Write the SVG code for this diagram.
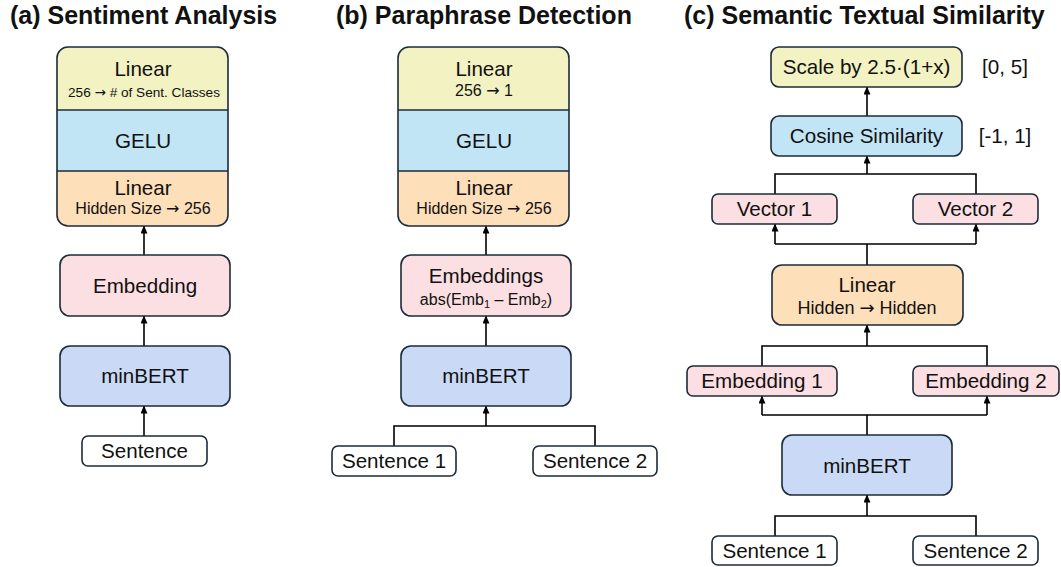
<svg xmlns="http://www.w3.org/2000/svg" width="1061" height="567" viewBox="0 0 1061 567">
<style>
  text { font-family: "Liberation Sans", Arial, sans-serif; fill: #111; text-anchor: middle; }
  .title { font-weight: bold; font-size: 25px; text-anchor: start; }
  .main { font-size: 20.6px; }
  .sub { font-size: 16px; }
  .ar { font-family: "DejaVu Sans", sans-serif; }
  .box { stroke: #1c2b3a; stroke-width: 1.6; }
  .yel { fill: #f2f2c2; }
  .cyan { fill: #c2e5f5; }
  .org { fill: #fddfb9; }
  .pink { fill: #fbdfe2; }
  .blue { fill: #cadaf6; }
  .white { fill: #ffffff; }
  .conn path { fill: none; stroke: #000; stroke-width: 1.6; }
  .conn .arr { marker-end: url(#ah); }
</style>
<defs>
  <marker id="ah" viewBox="0 0 8 7" markerWidth="8" markerHeight="7" refX="7.5" refY="3.5" orient="auto" markerUnits="userSpaceOnUse">
    <path d="M0,0 L8,3.5 L0,7 z" fill="#000"/>
  </marker>
  <clipPath id="clipA"><rect x="57" y="47" width="171" height="179" rx="11"/></clipPath>
  <clipPath id="clipB"><rect x="398" y="47" width="171" height="179" rx="11"/></clipPath>
</defs>
<rect width="1061" height="567" fill="#fff"/>

<text class="title" x="10" y="24">(a) Sentiment Analysis</text>
<text class="title" x="336" y="24">(b) Paraphrase Detection</text>
<text class="title" x="684" y="24">(c) Semantic Textual Similarity</text>

<g class="conn" id="connectors">
  <path class="arr" d="M144,436 V406"/>
  <path class="arr" d="M144,346 V316"/>
  <path class="arr" d="M144,255 V226"/>

  <path d="M394,446 V426 H595 V446"/>
  <path class="arr" d="M486,426 V406"/>
  <path class="arr" d="M486,346 V316"/>
  <path class="arr" d="M486,255 V226"/>

  <path d="M775,536 V516 H976 V536"/>
  <path class="arr" d="M867,516 V495"/>
  <path d="M867,435 V415 M762,415 H987"/>
  <path class="arr" d="M762,415 V396"/>
  <path class="arr" d="M987,415 V396"/>
  <path d="M762,366 V346 H987 V366"/>
  <path class="arr" d="M867,346 V325"/>
  <path d="M867,265 V244 M775,244 H976"/>
  <path class="arr" d="M775,244 V224"/>
  <path class="arr" d="M976,244 V224"/>
  <path d="M775,194 V174 H976 V194"/>
  <path class="arr" d="M867,174 V156"/>
  <path class="arr" d="M867,116 V87"/>
</g>

<!-- (a) -->
<g id="a-head">
  <g clip-path="url(#clipA)">
    <rect class="yel" x="57" y="47" width="171" height="63"/>
    <rect class="cyan" x="57" y="110" width="171" height="61"/>
    <rect class="org" x="57" y="171" width="171" height="55"/>
  </g>
  <rect class="box" x="57" y="47" width="171" height="179" rx="11" fill="none"/>
  <path class="box" d="M57,110 H228 M57,171 H228" fill="none"/>
  <text class="main" x="143" y="76">Linear</text>
  <text x="144" y="97" style="font-size:13.6px">256 <tspan class="ar">→</tspan> # of Sent. Classes</text>
  <text class="main" x="143" y="148">GELU</text>
  <text class="main" x="143" y="195">Linear</text>
  <text class="sub" x="143" y="214">Hidden Size <tspan class="ar">→</tspan> 256</text>
</g>
<g id="a-embedding">
  <rect class="box pink" x="60" y="255" width="170" height="61" rx="10"/>
  <text class="main" x="145" y="293">Embedding</text>
</g>
<g id="a-minbert">
  <rect class="box blue" x="60" y="346" width="170" height="60" rx="10"/>
  <text class="main" x="145" y="383">minBERT</text>
</g>
<g id="a-sentence">
  <rect class="box white" x="82" y="436" width="125" height="30" rx="6"/>
  <text class="main" x="144.5" y="458">Sentence</text>
</g>

<!-- (b) -->
<g id="b-head">
  <g clip-path="url(#clipB)">
    <rect class="yel" x="398" y="47" width="171" height="63"/>
    <rect class="cyan" x="398" y="110" width="171" height="61"/>
    <rect class="org" x="398" y="171" width="171" height="55"/>
  </g>
  <rect class="box" x="398" y="47" width="171" height="179" rx="11" fill="none"/>
  <path class="box" d="M398,110 H569 M398,171 H569" fill="none"/>
  <text class="main" x="484" y="76">Linear</text>
  <text class="sub" x="484" y="96">256 <tspan class="ar">→</tspan> 1</text>
  <text class="main" x="484" y="148">GELU</text>
  <text class="main" x="484" y="195">Linear</text>
  <text class="sub" x="484" y="214">Hidden Size <tspan class="ar">→</tspan> 256</text>
</g>
<g id="b-embeddings">
  <rect class="box pink" x="401" y="255" width="170" height="61" rx="10"/>
  <text class="main" x="486" y="283">Embeddings</text>
  <text class="sub" x="486" y="305">abs(Emb<tspan dy="3" style="font-size:11px">1</tspan><tspan dy="-3"> – Emb</tspan><tspan dy="3" style="font-size:11px">2</tspan><tspan dy="-3">)</tspan></text>
</g>
<g id="b-minbert">
  <rect class="box blue" x="401" y="346" width="170" height="60" rx="10"/>
  <text class="main" x="486" y="383">minBERT</text>
</g>
<g id="b-sentence1">
  <rect class="box white" x="332" y="446" width="124" height="30" rx="6"/>
  <text class="main" x="394" y="468">Sentence 1</text>
</g>
<g id="b-sentence2">
  <rect class="box white" x="533" y="446" width="124" height="30" rx="6"/>
  <text class="main" x="595" y="468">Sentence 2</text>
</g>

<!-- (c) -->
<g id="c-scale">
  <rect class="box yel" x="771" y="47" width="191" height="40" rx="8"/>
  <text class="main" x="866.5" y="74">Scale by 2.5·(1+x)</text>
  <text class="main" x="1005" y="74">[0, 5]</text>
</g>
<g id="c-cosine">
  <rect class="box cyan" x="771" y="116" width="191" height="40" rx="8"/>
  <text class="main" x="866.5" y="143">Cosine Similarity</text>
  <text class="main" x="1005" y="143">[-1, 1]</text>
</g>
<g id="c-vector1">
  <rect class="box pink" x="712" y="194" width="125" height="30" rx="6"/>
  <text class="main" x="774.5" y="216">Vector 1</text>
</g>
<g id="c-vector2">
  <rect class="box pink" x="913" y="194" width="125" height="30" rx="6"/>
  <text class="main" x="975.5" y="216">Vector 2</text>
</g>
<g id="c-linear">
  <rect class="box org" x="772" y="265" width="191" height="60" rx="10"/>
  <text class="main" x="867" y="292">Linear</text>
  <text x="867" y="314" style="font-size:18px">Hidden <tspan class="ar">→</tspan> Hidden</text>
</g>
<g id="c-embedding1">
  <rect class="box pink" x="687" y="366" width="150" height="30" rx="6"/>
  <text class="main" x="762" y="388">Embedding 1</text>
</g>
<g id="c-embedding2">
  <rect class="box pink" x="913" y="366" width="146" height="30" rx="6"/>
  <text class="main" x="986" y="388">Embedding 2</text>
</g>
<g id="c-minbert">
  <rect class="box blue" x="782" y="435" width="170" height="60" rx="10"/>
  <text class="main" x="867" y="473">minBERT</text>
</g>
<g id="c-sentence1">
  <rect class="box white" x="712" y="536" width="125" height="29" rx="6"/>
  <text class="main" x="774.5" y="557.5">Sentence 1</text>
</g>
<g id="c-sentence2">
  <rect class="box white" x="913" y="536" width="125" height="29" rx="6"/>
  <text class="main" x="975.5" y="557.5">Sentence 2</text>
</g>
</svg>
